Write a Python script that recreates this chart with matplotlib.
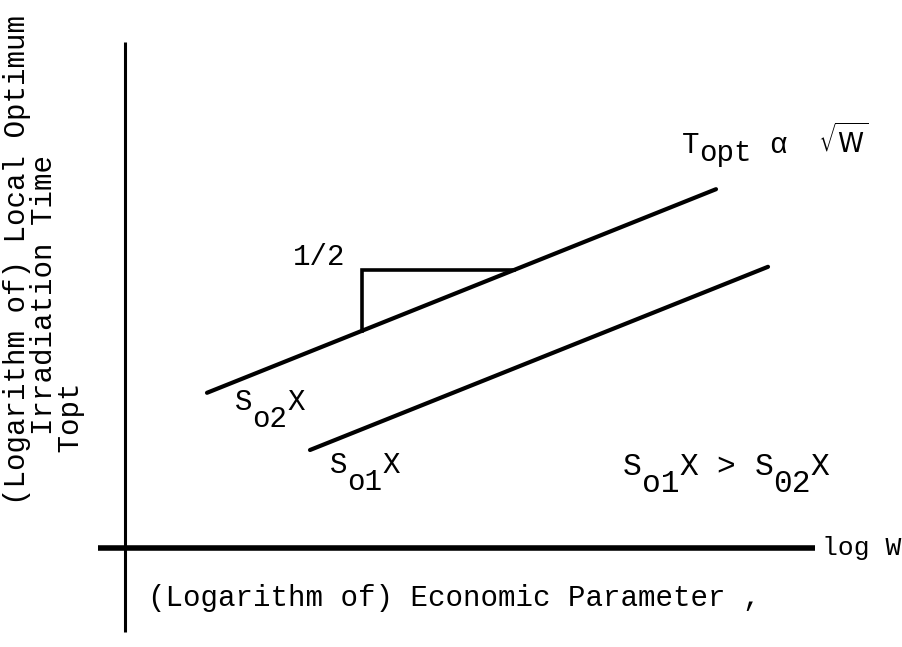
import matplotlib

matplotlib.use("Agg")
import matplotlib.pyplot as plt
from matplotlib.transforms import offset_copy


# log-log sketch coordinates: origin where the two axes cross
S02_LOGW = [0.82, 5.91]
S02_LOGT = [1.94, 4.485]
S01_LOGW = [1.85, 6.43]
S01_LOGT = [1.225, 3.515]

# slope triangle hung under the S02 line (rise / run = 1/2)
TRI_LOGW = [2.37, 2.37, 3.89]
TRI_LOGT = [2.715, 3.475, 3.475]

Y_AXIS_SPAN = [-1.05, 6.325]
X_AXIS_SPAN = [-0.27, 6.90]

FONT = "Liberation Mono"
FS = 21
PITCH = 0.6 * FS  # points per typed character
DROP = 12.0       # half-line drop for subscripts, points

YLABEL_LINES = [
    "(Logarithm of) Local Optimum",
    "    Irradiation Time",
    "   Topt",
]


def typed(ax, x, y, pieces, fontsize=FS):
    """Type a label piece by piece: (text, column, drop in points)."""
    pitch = 0.6 * fontsize
    for text, col, drop in pieces:
        tr = offset_copy(ax.transData, fig=ax.figure, x=col * pitch, y=-drop, units="points")
        ax.text(x, y, text, fontsize=fontsize, family=FONT,
                va="baseline", ha="left", transform=tr)


def main() -> None:
    fig = plt.figure(figsize=(9.02, 6.47), dpi=100)
    ax = fig.add_axes([0, 0, 1, 1])
    ax.set_xlim(-1.25, 7.77)
    ax.set_ylim(-1.2375, 6.85)
    ax.axis("off")

    # axes of the sketch
    ax.plot([0, 0], Y_AXIS_SPAN, color="black", lw=2.2, solid_capstyle="butt")
    ax.plot(X_AXIS_SPAN, [0, 0], color="black", lw=4.0, solid_capstyle="butt")

    ax.plot(S02_LOGW, S02_LOGT, color="black", lw=3.0, solid_capstyle="round")
    ax.plot(S01_LOGW, S01_LOGT, color="black", lw=3.0, solid_capstyle="round")
    ax.plot(TRI_LOGW, TRI_LOGT, color="black", lw=2.6, solid_joinstyle="miter")

    ax.text(1.68, 3.64, "1/2", fontsize=FS, family=FONT, va="center", ha="left")

    typed(ax, 1.10, 1.725, [("S", 0, 0), ("o2", 1, DROP), ("X", 3, 0)])
    typed(ax, 2.05, 0.9375, [("S", 0, 0), ("o1", 1, DROP), ("X", 3, 0)])
    typed(ax, 4.98, 0.9125, [("S", 0, 0), ("o1", 1, DROP), ("X", 3, 0), (">", 5, 0),
                             ("S", 7, 0), ("02", 8, DROP), ("X", 10, 0)], fontsize=22.5)

    # T_opt proportional to sqrt(W)
    typed(ax, 5.57, 4.9375, [("T", 0, 0), ("opt", 1, 6.0), ("\u03b1", 5, 0)])
    ax.text(6.93, 4.9375, r"$\sqrt{\mathrm{W}}$", fontsize=19, va="baseline", ha="left")

    ax.text(6.97, 0.0, "log W", fontsize=19, family=FONT, va="center", ha="left")
    ax.text(0.23, -0.625, "(Logarithm of) Economic Parameter ,",
            fontsize=FS, family=FONT, va="center", ha="left")

    # ordinate caption, typed sideways on three lines
    ax.text(-1.22, 0.54, "\n".join(YLABEL_LINES), fontsize=FS, family=FONT,
            rotation=90, va="bottom", ha="left", multialignment="left",
            linespacing=0.95)

    fig.savefig("out.png", dpi=100, facecolor="white")
    plt.close(fig)


if __name__ == "__main__":
    main()
